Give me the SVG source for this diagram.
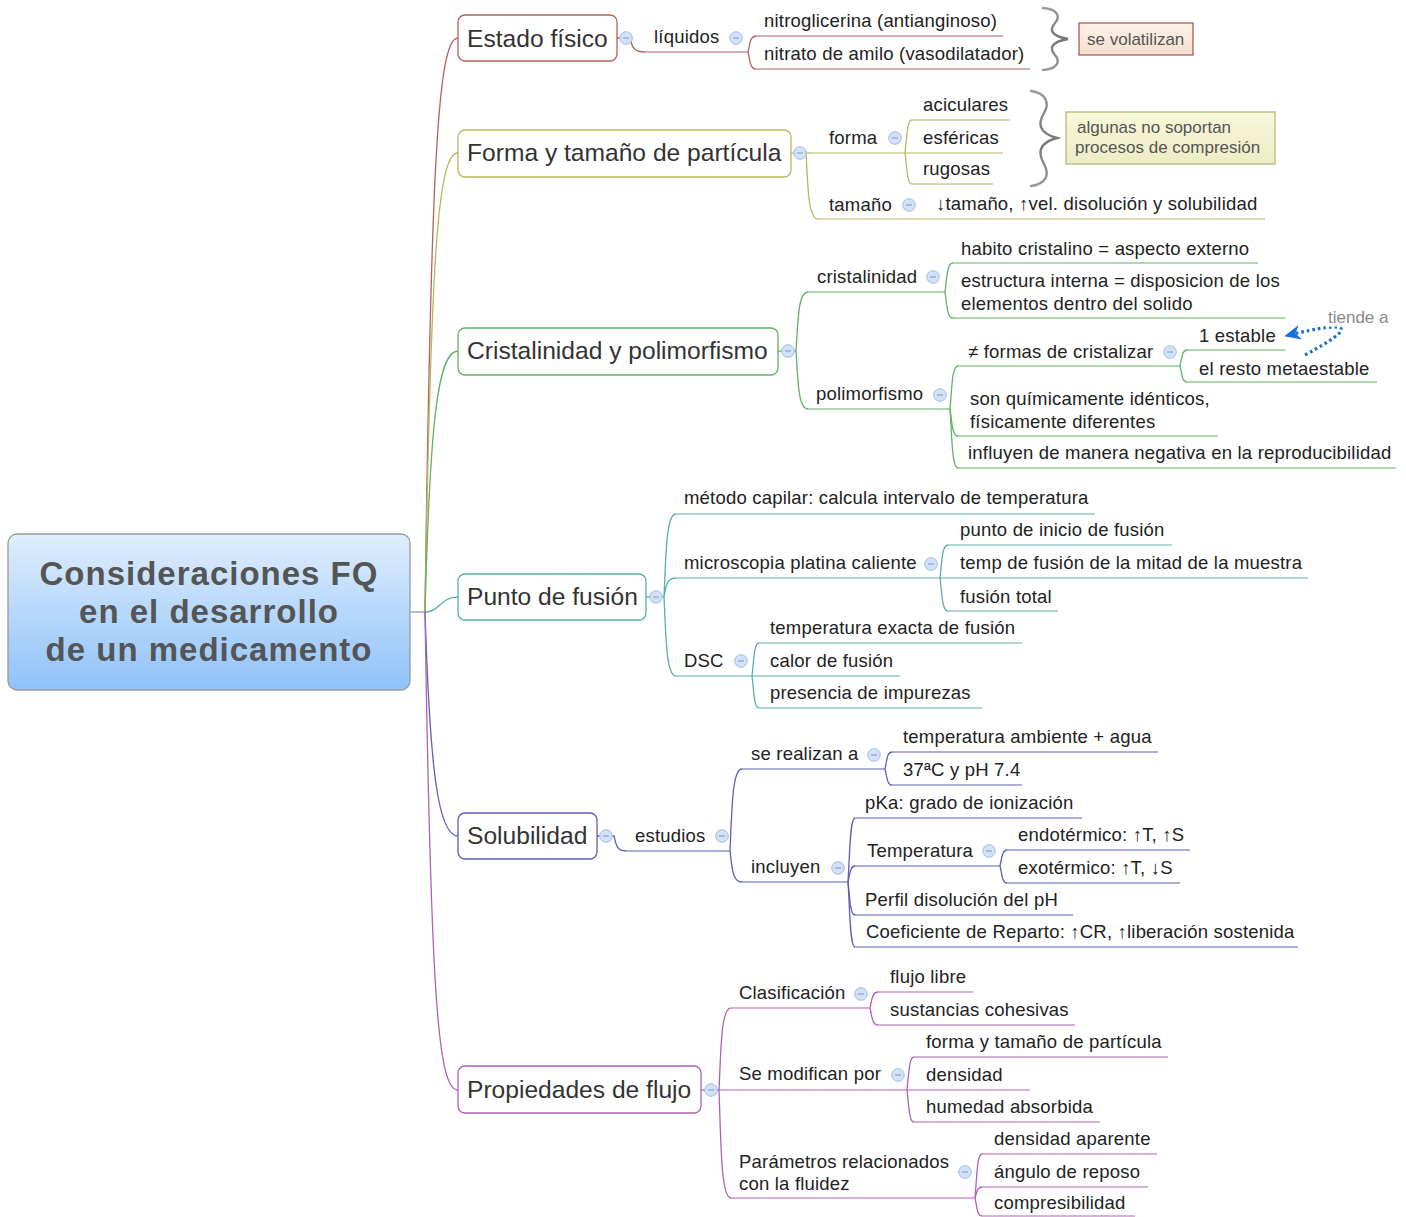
<svg xmlns="http://www.w3.org/2000/svg" width="1406" height="1217" viewBox="0 0 1406 1217">
<defs>
<linearGradient id="rootg" x1="0" y1="0" x2="0" y2="1"><stop offset="0" stop-color="#dfeefd"/><stop offset="1" stop-color="#8fc2f9"/></linearGradient>
<linearGradient id="noteR" x1="0" y1="0" x2="0" y2="1"><stop offset="0" stop-color="#fdf3e9"/><stop offset="1" stop-color="#f2dfcd"/></linearGradient>
<linearGradient id="noteY" x1="0" y1="0" x2="0" y2="1"><stop offset="0" stop-color="#f8f8dc"/><stop offset="1" stop-color="#ececc4"/></linearGradient>
<linearGradient id="braceg" x1="0" y1="0" x2="0" y2="1"><stop offset="0" stop-color="#999"/><stop offset="0.5" stop-color="#777"/><stop offset="1" stop-color="#999"/></linearGradient>
<g id="col"><circle r="6.3" fill="#d2e1f7" stroke="#a3bce6" stroke-width="1"/><line x1="-3" y1="0" x2="3" y2="0" stroke="#8aa3cf" stroke-width="1.2"/></g>
<marker id="arr" viewBox="0 0 10 10" refX="7" refY="5" markerWidth="5.2" markerHeight="5.2" orient="auto"><path d="M0,0.5 L10,5 L0,9.5 L3,5 z" fill="#1a6fd8"/></marker>
</defs>
<style>
text{font-family:"Liberation Sans",Arial,sans-serif;fill:#222;font-size:18.5px;letter-spacing:0.2px}
.main{font-size:24.6px;fill:#333;letter-spacing:0}
.root{font-size:33px;font-weight:bold;fill:#555;letter-spacing:1px}
.note{font-size:17px;fill:#555;letter-spacing:0}
.c{fill:none;stroke-width:1.3}
.u{fill:none;stroke-width:1.2}
.box{fill:#fff;stroke-width:1.3}
.R{stroke:#b5615f}.Y{stroke:#b9b65c}.G{stroke:#62b262}.T{stroke:#5aadad}.B{stroke:#5f5fb5}.M{stroke:#b060b5}
.brace{fill:none;stroke:url(#braceg);stroke-width:2.4;stroke-linecap:round}
</style>

<g id="connectors">
<path class="c" stroke="#999" d="M410,612 H425"/>
<path class="c R" d="M425,612 C431,160 438,38 458,38"/>
<path class="c Y" d="M425,612 C431,250 438,153 458,153"/>
<path class="c G" d="M425,612 C430,420 438,351 458,351"/>
<path class="c T" d="M425,612 C440,612 440,597 458,597"/>
<path class="c B" d="M425,612 C430,770 438,836 458,836"/>
<path class="c M" d="M425,612 C431,1000 438,1090 458,1090"/>
<path class="c R" d="M617,38 H630 C632,45 632,52 645,52"/>
<path class="c R" d="M748,52 C750,44 750,36 756,36"/>
<path class="c R" d="M748,52 C750,60 750,69 756,69"/>
<path class="c Y" d="M791,153 H812"/>
<path class="c Y" d="M806,153 C808,186 808,219 818,219"/>
<path class="c Y" d="M905,153 C907,136 907,120 912,120"/>
<path class="c Y" d="M905,153 C907,168 907,184 912,184"/>
<path class="c G" d="M778,351 H796"/>
<path class="c G" d="M796,351 C798,321 798,292 808,292"/>
<path class="c G" d="M796,351 C798,380 798,409 808,409"/>
<path class="c G" d="M945,292 C947,277 947,263 953,263"/>
<path class="c G" d="M945,292 C947,305 947,318 953,318"/>
<path class="c G" d="M950,409 C952,387 952,366 958,366"/>
<path class="c G" d="M950,409 C952,422 952,436 958,436"/>
<path class="c G" d="M950,409 C952,438 952,468 958,468"/>
<path class="c G" d="M1180,366 C1182,358 1182,350 1187,350"/>
<path class="c G" d="M1180,366 C1182,374 1182,382 1187,382"/>
<path class="c T" d="M646,597 H664"/>
<path class="c T" d="M664,597 C666,555 666,514 676,514"/>
<path class="c T" d="M664,597 C666,587 666,578 676,578"/>
<path class="c T" d="M664,597 C666,636 666,676 676,676"/>
<path class="c T" d="M940,578 C942,561 942,545 948,545"/>
<path class="c T" d="M940,578 C942,594 942,611 948,611"/>
<path class="c T" d="M752,676 C754,659 754,643 759,643"/>
<path class="c T" d="M752,676 C754,692 754,708 759,708"/>
<path class="c B" d="M597,836 H614 C616,843 616,851 626,851"/>
<path class="c B" d="M730,851 C732,810 732,769 742,769"/>
<path class="c B" d="M730,851 C732,866 732,882 742,882"/>
<path class="c B" d="M885,769 C887,760 887,752 892,752"/>
<path class="c B" d="M885,769 C887,777 887,785 892,785"/>
<path class="c B" d="M848,882 C850,850 850,818 855,818"/>
<path class="c B" d="M848,882 C850,874 850,866 855,866"/>
<path class="c B" d="M848,882 C850,898 850,915 855,915"/>
<path class="c B" d="M848,882 C850,914 850,947 855,947"/>
<path class="c B" d="M1000,866 C1002,858 1002,850 1007,850"/>
<path class="c B" d="M1000,866 C1002,874 1002,883 1007,883"/>
<path class="c M" d="M701,1090 H719"/>
<path class="c M" d="M719,1090 C721,1049 721,1008 731,1008"/>
<path class="c M" d="M719,1090 C721,1144 721,1198 731,1198"/>
<path class="c M" d="M870,1008 C872,1000 872,992 878,992"/>
<path class="c M" d="M870,1008 C872,1016 872,1025 878,1025"/>
<path class="c M" d="M907,1090 C909,1073 909,1057 914,1057"/>
<path class="c M" d="M907,1090 C909,1106 909,1122 914,1122"/>
<path class="c M" d="M975,1198 C977,1176 977,1154 982,1154"/>
<path class="c M" d="M975,1198 C977,1192 977,1187 982,1187"/>
<path class="c M" d="M975,1198 C977,1207 977,1216 982,1216"/>
<path d="M1305,355 Q1385,312 1289,335" fill="none" stroke="#1a6fd8" stroke-width="3.2" stroke-dasharray="2.6,3" marker-end="url(#arr)"/>
</g>

<g id="root">
<rect x="8" y="534" width="402" height="156" rx="9" fill="url(#rootg)" stroke="#9a9a9a" stroke-width="1.3"/>
<text class="root" x="209" y="585" text-anchor="middle">Consideraciones FQ</text>
<text class="root" x="209" y="623" text-anchor="middle">en el desarrollo</text>
<text class="root" x="209" y="661" text-anchor="middle">de un medicamento</text>
</g>

<g id="estado">
<rect class="box R" x="458" y="15" width="159" height="46" rx="7"/>
<text class="main" x="467" y="47">Estado físico</text>
<use href="#col" x="626" y="38"/>
</g>
<g id="liquidos">
<text x="654" y="43">líquidos</text>
<path class="u R" d="M645,52 H748"/>
<use href="#col" x="736" y="38"/>
</g>
<g id="nitroglicerina">
<text x="764" y="27">nitroglicerina (antianginoso)</text>
<path class="u R" d="M756,36 H1003"/>
</g>
<g id="nitrato">
<text x="764" y="60">nitrato de amilo (vasodilatador)</text>
<path class="u R" d="M756,69 H1030"/>
</g>
<g id="brace1"><path class="brace" d="M1043,8 C1057,9 1061,16 1055,23 C1049,30 1051,36 1068,39 C1051,42 1049,48 1055,55 C1061,62 1057,69 1043,70"/></g>
<g id="volatilizan">
<rect x="1079" y="23" width="114" height="32" fill="url(#noteR)" stroke="#b05a5a" stroke-width="1.3"/>
<text class="note" x="1087" y="45">se volatilizan</text>
</g>

<g id="forma-tamano">
<rect class="box Y" x="458" y="130" width="333" height="47" rx="7"/>
<text class="main" x="467" y="161">Forma y tamaño de partícula</text>
<use href="#col" x="800" y="153"/>
</g>
<g id="forma">
<text x="829" y="144">forma</text>
<path class="u Y" d="M812,153 H905"/>
<use href="#col" x="895" y="138"/>
</g>
<g id="aciculares"><text x="923" y="111">aciculares</text><path class="u Y" d="M912,120 H1010"/></g>
<g id="esfericas"><text x="923" y="144">esféricas</text><path class="u Y" d="M905,153 H1003"/></g>
<g id="rugosas"><text x="923" y="175">rugosas</text><path class="u Y" d="M912,184 H993"/></g>
<g id="brace2"><path class="brace" d="M1031,91 C1046,93 1050,103 1044,113 C1038,123 1038,133 1057,138 C1038,143 1038,153 1044,164 C1050,175 1046,184 1031,186"/></g>
<g id="compresion">
<rect x="1066" y="112" width="209" height="52" fill="url(#noteY)" stroke="#b9b97a" stroke-width="1.3"/>
<text class="note" x="1077" y="133">algunas no soportan</text>
<text class="note" x="1075" y="153">procesos de compresión</text>
</g>
<g id="tamano">
<text x="829" y="211">tamaño</text>
<path class="u Y" d="M818,219 H918"/>
<use href="#col" x="909" y="205"/>
</g>
<g id="tamano-vel"><text x="936" y="210">↓tamaño, ↑vel. disolución y solubilidad</text><path class="u Y" d="M918,219 H1265"/></g>

<g id="cristalinidad-polimorfismo">
<rect class="box G" x="458" y="328" width="320" height="47" rx="7"/>
<text class="main" x="467" y="359">Cristalinidad y polimorfismo</text>
<use href="#col" x="788" y="351"/>
</g>
<g id="cristalinidad">
<text x="817" y="283">cristalinidad</text>
<path class="u G" d="M808,292 H945"/>
<use href="#col" x="933" y="277"/>
</g>
<g id="habito"><text x="961" y="255">habito cristalino = aspecto externo</text><path class="u G" d="M953,263 H1258"/></g>
<g id="estructura"><text x="961" y="287">estructura interna = disposicion de los</text><text x="961" y="310">elementos dentro del solido</text><path class="u G" d="M953,318 H1285"/></g>
<g id="polimorfismo">
<text x="816" y="400">polimorfismo</text>
<path class="u G" d="M808,409 H950"/>
<use href="#col" x="940" y="395"/>
</g>
<g id="formas-cristalizar">
<text x="968" y="358">≠ formas de cristalizar</text>
<path class="u G" d="M958,366 H1180"/>
<use href="#col" x="1170" y="352"/>
</g>
<g id="estable"><text x="1199" y="342">1 estable</text><path class="u G" d="M1187,350 H1285"/></g>
<g id="metaestable"><text x="1199" y="375">el resto metaestable</text><path class="u G" d="M1187,382 H1377"/></g>
<g id="identicos"><text x="970" y="405">son químicamente idénticos,</text><text x="970" y="428">físicamente diferentes</text><path class="u G" d="M958,436 H1218"/></g>
<g id="influyen"><text x="968" y="459">influyen de manera negativa en la reproducibilidad</text><path class="u G" d="M958,468 H1396"/></g>
<g id="tiende-a"><rect x="1326" y="309" width="66" height="18" fill="#fff" fill-opacity="0.6"/><text class="note" x="1328" y="323" style="fill:#888">tiende a</text></g>

<g id="punto-fusion">
<rect class="box T" x="458" y="574" width="188" height="46" rx="7"/>
<text class="main" x="467" y="605">Punto de fusión</text>
<use href="#col" x="656" y="597"/>
</g>
<g id="capilar"><text x="684" y="504">método capilar: calcula intervalo de temperatura</text><path class="u T" d="M676,514 H1095"/></g>
<g id="microscopia">
<text x="684" y="569">microscopia platina caliente</text>
<path class="u T" d="M676,578 H940"/>
<use href="#col" x="931" y="564"/>
</g>
<g id="inicio"><text x="960" y="536">punto de inicio de fusión</text><path class="u T" d="M948,545 H1172"/></g>
<g id="mitad"><text x="960" y="569">temp de fusión de la mitad de la muestra</text><path class="u T" d="M940,578 H1308"/></g>
<g id="total"><text x="960" y="603">fusión total</text><path class="u T" d="M948,611 H1058"/></g>
<g id="dsc">
<text x="684" y="667">DSC</text>
<path class="u T" d="M676,676 H752"/>
<use href="#col" x="741" y="661"/>
</g>
<g id="exacta"><text x="770" y="634">temperatura exacta de fusión</text><path class="u T" d="M759,643 H1022"/></g>
<g id="calor"><text x="770" y="667">calor de fusión</text><path class="u T" d="M752,676 H900"/></g>
<g id="impurezas"><text x="770" y="699">presencia de impurezas</text><path class="u T" d="M759,708 H982"/></g>

<g id="solubilidad">
<rect class="box B" x="458" y="813" width="139" height="46" rx="7"/>
<text class="main" x="467" y="844">Solubilidad</text>
<use href="#col" x="606" y="836"/>
</g>
<g id="estudios">
<text x="635" y="842">estudios</text>
<path class="u B" d="M626,851 H730"/>
<use href="#col" x="722" y="836"/>
</g>
<g id="se-realizan">
<text x="751" y="760">se realizan a</text>
<path class="u B" d="M742,769 H885"/>
<use href="#col" x="874" y="755"/>
</g>
<g id="ambiente"><text x="903" y="743">temperatura ambiente + agua</text><path class="u B" d="M892,752 H1158"/></g>
<g id="ph74"><text x="903" y="776">37ªC y pH 7.4</text><path class="u B" d="M892,785 H1022"/></g>
<g id="incluyen">
<text x="751" y="873">incluyen</text>
<path class="u B" d="M742,882 H848"/>
<use href="#col" x="838" y="868"/>
</g>
<g id="pka"><text x="865" y="809">pKa: grado de ionización</text><path class="u B" d="M855,818 H1082"/></g>
<g id="temperatura">
<text x="867" y="857">Temperatura</text>
<path class="u B" d="M855,866 H1000"/>
<use href="#col" x="989" y="851"/>
</g>
<g id="endotermico"><text x="1018" y="841">endotérmico: ↑T, ↑S</text><path class="u B" d="M1007,850 H1190"/></g>
<g id="exotermico"><text x="1018" y="874">exotérmico: ↑T, ↓S</text><path class="u B" d="M1007,883 H1180"/></g>
<g id="perfil"><text x="865" y="906">Perfil disolución del pH</text><path class="u B" d="M855,915 H1073"/></g>
<g id="coeficiente"><text x="866" y="938">Coeficiente de Reparto: ↑CR, ↑liberación sostenida</text><path class="u B" d="M855,947 H1298"/></g>

<g id="flujo">
<rect class="box M" x="458" y="1066" width="243" height="47" rx="7"/>
<text class="main" x="467" y="1098">Propiedades de flujo</text>
<use href="#col" x="711" y="1090"/>
</g>
<g id="clasificacion">
<text x="739" y="999">Clasificación</text>
<path class="u M" d="M731,1008 H870"/>
<use href="#col" x="861" y="994"/>
</g>
<g id="flujo-libre"><text x="890" y="983">flujo libre</text><path class="u M" d="M878,992 H973"/></g>
<g id="cohesivas"><text x="890" y="1016">sustancias cohesivas</text><path class="u M" d="M878,1025 H1075"/></g>
<g id="se-modifican">
<text x="739" y="1080">Se modifican por</text>
<path class="u M" d="M719,1090 H907"/>
<use href="#col" x="898" y="1075"/>
</g>
<g id="forma-particula"><text x="926" y="1048">forma y tamaño de partícula</text><path class="u M" d="M914,1057 H1168"/></g>
<g id="densidad"><text x="926" y="1081">densidad</text><path class="u M" d="M907,1090 H1030"/></g>
<g id="humedad"><text x="926" y="1113">humedad absorbida</text><path class="u M" d="M914,1122 H1100"/></g>
<g id="parametros">
<text x="739" y="1168">Parámetros relacionados</text>
<text x="739" y="1190">con la fluidez</text>
<path class="u M" d="M731,1198 H975"/>
<use href="#col" x="965" y="1172"/>
</g>
<g id="aparente"><text x="994" y="1145">densidad aparente</text><path class="u M" d="M982,1154 H1157"/></g>
<g id="angulo"><text x="994" y="1178">ángulo de reposo</text><path class="u M" d="M982,1187 H1148"/></g>
<g id="compresibilidad"><text x="994" y="1209">compresibilidad</text><path class="u M" d="M982,1216 H1135"/></g>
</svg>
